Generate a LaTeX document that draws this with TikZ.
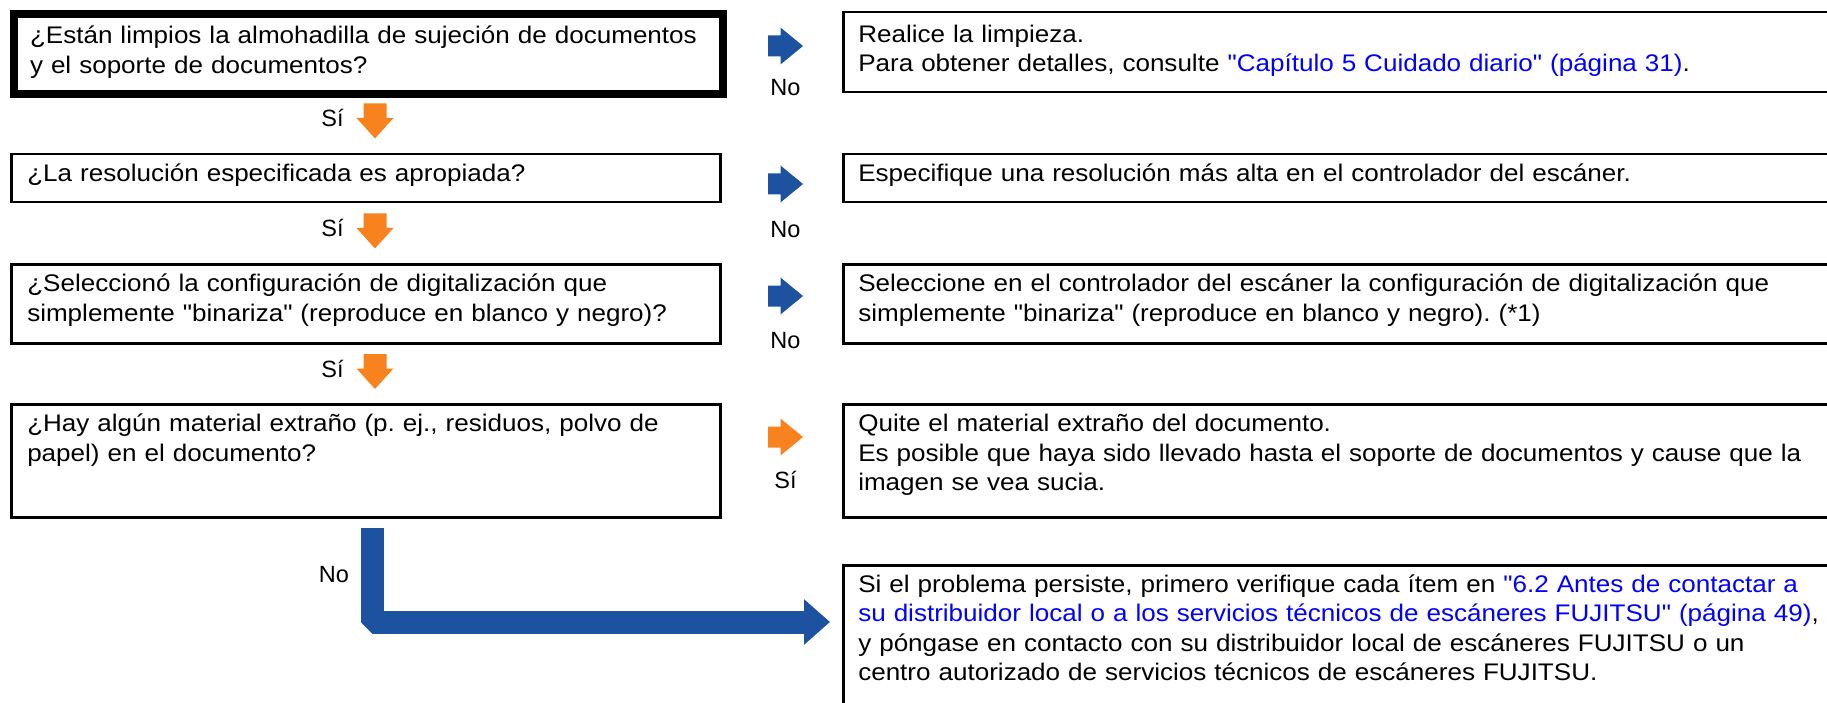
\documentclass[tikz,border=0pt]{standalone}
\usepackage{fontspec}
\setmainfont{Liberation Sans}
\newfontfamily\boxfont{Liberation Sans}[FakeStretch=1.085]
\usetikzlibrary{arrows.meta}
\definecolor{arrowblue}{RGB}{28,82,160}
\definecolor{arroworange}{RGB}{247,130,30}
\definecolor{linkblue}{RGB}{0,0,255}
\newcommand{\lnk}[1]{\textcolor{linkblue}{#1}}
\frenchspacing
\tikzset{
  qbox/.style={draw, line width=2.5pt, anchor=north west, align=left,
    inner xsep=16pt, inner ysep=0pt, text width=677pt, text height=27.5pt,
    font={\boxfont\fontsize{24}{29.5}\selectfont}},
  abox/.style={qbox, inner xsep=15pt, text width=1000pt},
  lbl/.style={anchor=base, inner sep=0pt, font={\fontsize{23.5}{28}\selectfont}},
  rarrow/.pic={\fill[pic actions] (-17.5,-10.5) -- (-5,-10.5) -- (-5,-18.5) -- (17.5,0)
    -- (-5,18.5) -- (-5,10.5) -- (-17.5,10.5) -- cycle;},
  darrow/.pic={\fill[pic actions] (-11.5,-17.5) -- (11.5,-17.5) -- (11.5,-3) -- (18.5,-3)
    -- (0,17.5) -- (-18.5,-3) -- (-11.5,-3) -- cycle;},
  bigarrow/.style={draw=arrowblue, line width=23pt, line join=bevel,
    -{Triangle[length=26pt,width=44pt]}}
}
\begin{document}
\begin{tikzpicture}[x=1pt,y=-1pt]
  \useasboundingbox (0,0) rectangle (1827,703);
  \clip (0,0) rectangle (1827,703);

  \node[qbox, line width=8pt, text height=30pt, text depth=50pt] (q1) at (10,10)
    {¿Están limpios la almohadilla de sujeción de documentos\\y el soporte de documentos?};
  \node[qbox, text depth=20.5pt] (q2) at (10,153)
    {¿La resolución especificada es apropiada?};
  \node[qbox, text depth=51.5pt] (q3) at (10,263)
    {¿Seleccionó la configuración de digitalización que\\simplemente "binariza" (reproduce en blanco y negro)?};
  \node[qbox, text depth=85.5pt] (q4) at (10,403)
    {¿Hay algún material extraño (p. ej., residuos, polvo de\\papel) en el documento?};

  \node[abox, text height=30pt, text depth=50pt] (a1) at (842,11)
    {Realice la limpieza.\\Para obtener detalles, consulte \lnk{"Capítulo 5 Cuidado diario" (página 31)}.};
  \node[abox, text depth=20.5pt] (a2) at (842,153)
    {Especifique una resolución más alta en el controlador del escáner.};
  \node[abox, text depth=51.5pt] (a3) at (842,263)
    {Seleccione en el controlador del escáner la configuración de digitalización que\\simplemente "binariza" (reproduce en blanco y negro). (*1)};
  \node[abox, text depth=85.5pt] (a4) at (842,403)
    {Quite el material extraño del documento.\\Es posible que haya sido llevado hasta el soporte de documentos y cause que la\\imagen se vea sucia.};
  \node[abox, text height=27pt, text depth=200pt] (a5) at (842,564)
    {Si el problema persiste, primero verifique cada ítem en \lnk{"6.2 Antes de contactar a}\\\lnk{su distribuidor local o a los servicios técnicos de escáneres FUJITSU" (página 49)},\\y póngase en contacto con su distribuidor local de escáneres FUJITSU o un\\centro autorizado de servicios técnicos de escáneres FUJITSU.};

  \pic[fill=arrowblue] at (785.5,46) {rarrow};
  \pic[fill=arrowblue] at (785.5,184) {rarrow};
  \pic[fill=arrowblue] at (785.5,296) {rarrow};
  \pic[fill=arroworange] at (785.5,437) {rarrow};
  \node[lbl] (n1) at (785.5,96) {No};
  \node[lbl] (n2) at (785.5,238) {No};
  \node[lbl] (n3) at (785.5,348) {No};
  \node[lbl] (s4) at (785.5,488) {Sí};

  \pic[fill=arroworange] at (375,121) {darrow};
  \pic[fill=arroworange] at (375,231) {darrow};
  \pic[fill=arroworange] at (375,371.5) {darrow};
  \node[lbl] (s1) at (332.5,127) {Sí};
  \node[lbl] (s2) at (332.5,237) {Sí};
  \node[lbl] (s3) at (332.5,377.5) {Sí};

  \coordinate (lstart) at (372,528);
  \coordinate (lend) at (830,622);
  \draw[bigarrow] (lstart) |- (lend);
  \node[lbl] (n5) at (334,582) {No};
\end{tikzpicture}
\end{document}
